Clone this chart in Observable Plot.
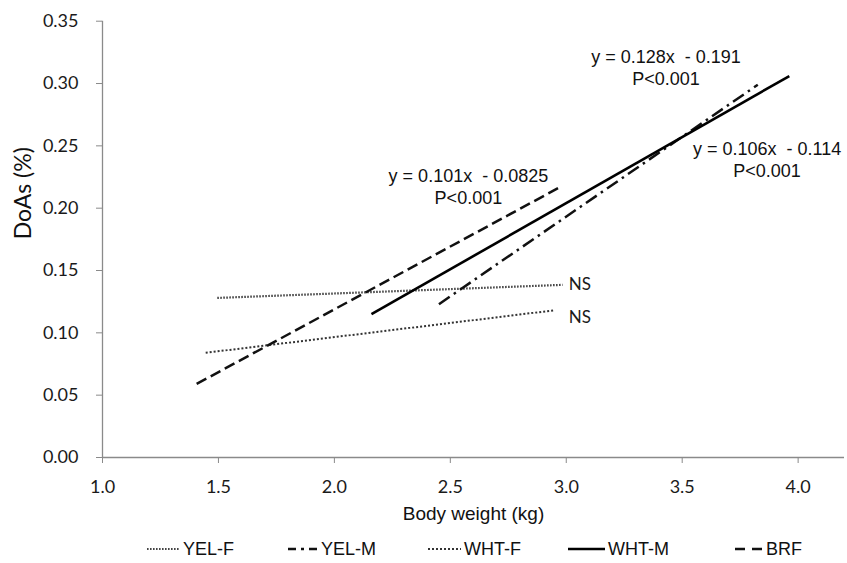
<!DOCTYPE html>
<html><head><meta charset="utf-8">
<script src="https://cdn.jsdelivr.net/npm/d3@7"></script>
<script src="https://cdn.jsdelivr.net/npm/@observablehq/plot@0.6"></script>
<style>
body{margin:0;background:#fff;}
#wrap{position:relative;width:847px;height:563px;overflow:hidden;}
#legend{position:absolute;top:537px;left:0;width:847px;height:24px;font-family:"Liberation Sans",Arial,sans-serif;font-size:18px;color:#111;}
.item{position:absolute;top:0;height:24px;display:flex;align-items:center;}
.item svg{display:block;margin-right:3px;}
</style></head><body>
<div id="wrap"><div id="chart"></div><div id="legend"></div></div>
<script>
// ---- data ----
const series = ["YEL-F", "YEL-M", "WHT-F", "WHT-M", "BRF"];
const xStart = [1.495, 2.451, 1.445, 2.160, 1.406];
const xEnd   = [2.984, 3.826, 2.945, 3.962, 2.974];
const yStart = [0.128, 0.123, 0.084, 0.115, 0.059];
const yEnd   = [0.1385, 0.299, 0.118, 0.306, 0.217];
const xTicks = [1.0, 1.5, 2.0, 2.5, 3.0, 3.5, 4.0];
const yTicks = [0.00, 0.05, 0.10, 0.15, 0.20, 0.25, 0.30, 0.35];
const xDomain = [1.0, 4.2];
const yDomain = [0, 0.35];
const xLabel = "Body weight (kg)";
const yLabel = "DoAs (%)";
const eqText = ["y = 0.128x  - 0.191\nP<0.001", "y = 0.106x  - 0.114\nP<0.001", "y = 0.101x  - 0.0825\nP<0.001"];
const eqX = [3.43, 3.866, 2.578];
const eqY = [0.3136, 0.2395, 0.218];
const nsText = ["NS", "NS"];
const nsX = [3.011, 3.011];
const nsY = [0.1388, 0.1123];

// ---- styles ----
const dash = {"YEL-F": "1.6,1.4", "YEL-M": "13,5,2.5,5", "WHT-F": "2,2", "WHT-M": null, "BRF": "11,5"};
const width = {"YEL-F": 2.2, "YEL-M": 2.5, "WHT-F": 2, "WHT-M": 2.6, "BRF": 2.5};
const color = {"YEL-F": "#444", "YEL-M": "#111", "WHT-F": "#333", "WHT-M": "#000", "BRF": "#111"};

const rows = series.map((s, i) => ({s, x1: xStart[i], x2: xEnd[i], y1: yStart[i], y2: yEnd[i]}));
const eqs = eqText.map((t, i) => ({t, x: eqX[i], y: eqY[i]}));
const ns = nsText.map((t, i) => ({t, x: nsX[i], y: nsY[i]}));

const tickFont = "Lato, 'Open Sans', sans-serif";
const arial = "'Liberation Sans', Arial, sans-serif";

const chart = Plot.plot({
  width: 847, height: 563,
  marginLeft: 102, marginRight: 3, marginTop: 20.7, marginBottom: 106,
  x: {domain: xDomain},
  y: {domain: yDomain},
  style: {background: "#fff", overflow: "visible"},
  marks: [
    Plot.ruleX([xDomain[0]], {y1: yDomain[0], y2: yDomain[1], stroke: "#8a8a8a", strokeWidth: 1.3}),
    Plot.ruleY([yDomain[0]], {x1: xDomain[0], x2: xDomain[1], stroke: "#8a8a8a", strokeWidth: 1.3}),
    Plot.axisY({ticks: yTicks, tickFormat: d3.format(".2f"), tickSize: 6, tickPadding: 18, stroke: "#8a8a8a",
      fill: "#1a1a1a", fontSize: 18, fontFamily: tickFont, label: null}),
    Plot.axisX({ticks: xTicks, tickFormat: d3.format(".1f"), tickSize: 6, tickPadding: 17, stroke: "#8a8a8a",
      fill: "#1a1a1a", fontSize: 18, fontFamily: tickFont, label: null}),
    ...series.map(s => Plot.link(rows.filter(r => r.s === s), {
      x1: "x1", y1: "y1", x2: "x2", y2: "y2",
      stroke: color[s], strokeWidth: width[s], strokeDasharray: dash[s]
    })),
    Plot.text(eqs, {x: "x", y: "y", text: "t", fontSize: 18, fontFamily: arial, fill: "#111", lineHeight: 1.25, textAnchor: "middle"}),
    Plot.text(ns, {x: "x", y: "y", text: "t", fontSize: 17, fontFamily: tickFont, fill: "#1a1a1a", textAnchor: "start"}),
    Plot.text([yLabel], {frameAnchor: "left", dx: -79, rotate: -90, fontSize: 23, fontFamily: tickFont, fill: "#111"}),
    Plot.text([xLabel], {frameAnchor: "bottom", dy: 62, fontSize: 19, fontFamily: arial, fill: "#111"})
  ]
});
document.getElementById("chart").appendChild(chart);

// ---- legend ----
const legendPos = [[147, 33], [288, 30], [428, 33], [568, 37], [735, 28]];
const leg = document.getElementById("legend");
series.forEach((s, i) => {
  const [left, w] = legendPos[i];
  const item = document.createElement("div");
  item.className = "item";
  item.style.left = left + "px";
  const svg = d3.create("svg").attr("width", w).attr("height", 10);
  svg.append("line").attr("x1", 0).attr("x2", w).attr("y1", 5).attr("y2", 5)
    .attr("stroke", color[s]).attr("stroke-width", width[s])
    .attr("stroke-dasharray", s === "YEL-M" ? "8,5,3,5" : s === "BRF" ? "10,7" : dash[s]);
  item.appendChild(svg.node());
  const span = document.createElement("span");
  span.textContent = s;
  item.appendChild(span);
  leg.appendChild(item);
});
</script>
</body></html>
